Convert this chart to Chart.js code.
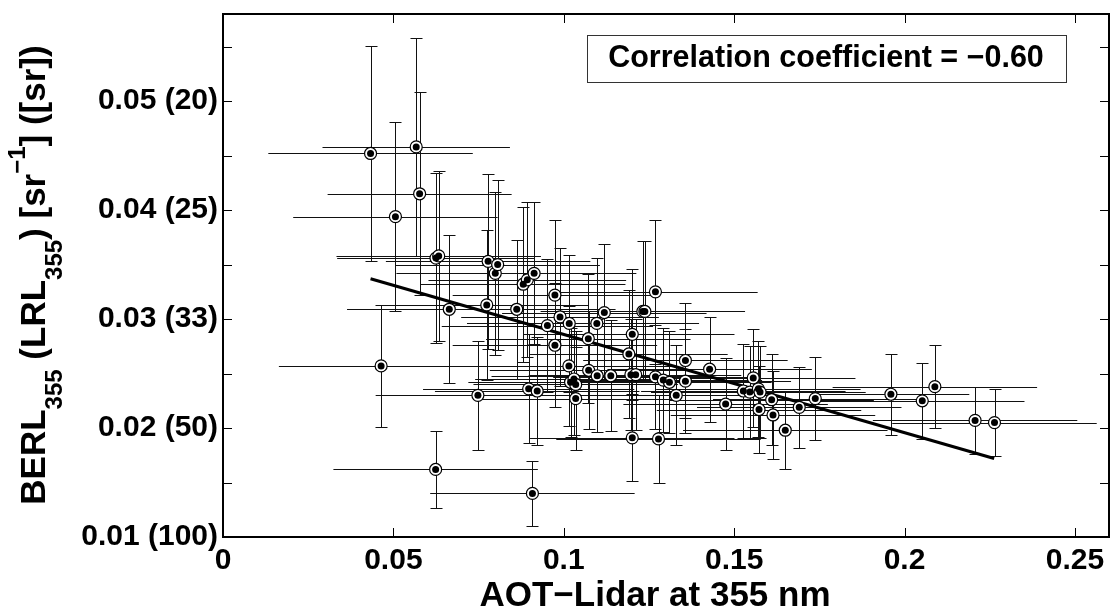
<!DOCTYPE html>
<html>
<head>
<meta charset="utf-8">
<script src="https://cdn.jsdelivr.net/npm/chart.js@4.4.0/dist/chart.umd.min.js"></script>
<style>
  html, body { margin: 0; padding: 0; background: #fff; }
</style>
</head>
<body>
<canvas id="chart" width="1110" height="613"></canvas>
<script>
// AOT (x) and backscatter-extinction ratio (y) with their error bars
const aotValues = [
  0.0433, 0.0567, 0.0577, 0.0506, 0.0625, 0.0633, 0.0664, 0.0778, 0.0799, 0.0806,
  0.0774, 0.0748, 0.0464, 0.0624, 0.0908, 0.0862, 0.0897, 0.0922, 0.0881, 0.0893,
  0.0913, 0.0974, 0.0952, 0.0974, 0.0989, 0.1016, 0.1015, 0.1020, 0.1030, 0.1035,
  0.1035, 0.1072, 0.1073, 0.1097, 0.1098, 0.1119, 0.1138, 0.1201, 0.1191, 0.1197,
  0.1211, 0.1201, 0.1232, 0.1238, 0.1269, 0.1269, 0.1292, 0.1310, 0.1278, 0.1330,
  0.1357, 0.1357, 0.1428, 0.1475, 0.1527, 0.1546, 0.1556, 0.1571, 0.1576, 0.1610,
  0.1573, 0.1614, 0.1650, 0.1691, 0.1738, 0.1960, 0.2052, 0.2089, 0.2207, 0.2264
];
const berlValues = [
  0.0452, 0.0458, 0.0415, 0.0394, 0.0356, 0.0358, 0.0309, 0.0353, 0.0342, 0.0350,
  0.0313, 0.0230, 0.0257, 0.0162, 0.0140, 0.0309, 0.0236, 0.0234, 0.0332, 0.0336,
  0.0342, 0.0322, 0.0294, 0.0276, 0.0302, 0.0296, 0.0257, 0.0242, 0.0245, 0.0240,
  0.0227, 0.0282, 0.0253, 0.0296, 0.0248, 0.0306, 0.0248, 0.0286, 0.0268, 0.0249,
  0.0249, 0.0191, 0.0307, 0.0307, 0.0325, 0.0247, 0.0244, 0.0242, 0.0190, 0.0230,
  0.0262, 0.0243, 0.0254, 0.0222, 0.0234, 0.0233, 0.0246, 0.0236, 0.0233, 0.0226,
  0.0217, 0.0212, 0.0198, 0.0219, 0.0227, 0.0231, 0.0225, 0.0238, 0.0207, 0.0205
];
const aotErrors = [
  0.030, 0.0275, 0.027, 0.030, 0.029, 0.030, 0.030, 0.030, 0.029, 0.030,
  0.030, 0.030, 0.030, 0.030, 0.030, 0.029, 0.031, 0.030, 0.030, 0.029,
  0.030, 0.030, 0.031, 0.030, 0.029, 0.030, 0.031, 0.030, 0.029, 0.030,
  0.030, 0.030, 0.029, 0.030, 0.031, 0.030, 0.030, 0.030, 0.029, 0.030,
  0.031, 0.030, 0.030, 0.029, 0.030, 0.030, 0.029, 0.030, 0.030, 0.030,
  0.030, 0.031, 0.030, 0.030, 0.030, 0.029, 0.030, 0.030, 0.031, 0.030,
  0.030, 0.030, 0.030, 0.030, 0.030, 0.023, 0.030, 0.030, 0.030, 0.030
];
const berlErrors = [
  0.0099, 0.0100, 0.0093, 0.0087, 0.0078, 0.0078, 0.0068, 0.0080, 0.0075, 0.0078,
  0.0069, 0.0050, 0.0056, 0.0035, 0.0030, 0.0064, 0.0050, 0.0050, 0.0071, 0.0071,
  0.0065, 0.0069, 0.0061, 0.0057, 0.0063, 0.0063, 0.0055, 0.0050, 0.0051, 0.0049,
  0.0047, 0.0059, 0.0054, 0.0060, 0.0052, 0.0063, 0.0051, 0.0060, 0.0059, 0.0051,
  0.0051, 0.0040, 0.0065, 0.0065, 0.0066, 0.0048, 0.0048, 0.0047, 0.0040, 0.0046,
  0.0053, 0.0048, 0.0048, 0.0042, 0.0043, 0.0042, 0.0045, 0.0044, 0.0042, 0.0042,
  0.0040, 0.0040, 0.0036, 0.0037, 0.0038, 0.0037, 0.0035, 0.0038, 0.0031, 0.0031
];

// linear fit end points
const fitX = [0.0433, 0.2263];
const fitY = [0.0337, 0.0172];

const xTickValues = [0, 0.05, 0.1, 0.15, 0.2, 0.25];
const xTickLabels = ['0', '0.05', '0.1', '0.15', '0.2', '0.25'];
const yTickValues = [0.01, 0.02, 0.03, 0.04, 0.05];
const yTickLabels = ['0.01 (100)', '0.02 (50)', '0.03 (33)', '0.04 (25)', '0.05 (20)'];
const yMarkValues = [0.01, 0.015, 0.02, 0.025, 0.03, 0.035, 0.04, 0.045, 0.05, 0.055];

const corrText = 'Correlation coefficient = \u22120.60';
const xTitle = 'AOT\u2212Lidar at 355 nm';
const yTitleParts = [
  { text: 'BERL', size: 35, shift: 0 },
  { text: '355', size: 24, shift: 17 },
  { text: ' (LRL', size: 35, shift: 0 },
  { text: '355', size: 24, shift: 17 },
  { text: ') [sr', size: 35, shift: 0 },
  { text: '\u22121', size: 24, shift: -20 },
  { text: '] ([sr])', size: 35, shift: 0 }
];

const FONT = "'Liberation Sans', Arial, Helvetica, sans-serif";

const points = aotValues.map((v, i) => ({ x: v, y: berlValues[i] }));
const fitPoints = fitX.map((v, i) => ({ x: v, y: fitY[i] }));

const errorBars = {
  id: 'errorBars',
  beforeDatasetsDraw(chart) {
    const { ctx, chartArea, scales: { x, y } } = chart;
    ctx.save();
    ctx.beginPath();
    ctx.rect(chartArea.left, chartArea.top, chartArea.width, chartArea.height);
    ctx.clip();
    ctx.strokeStyle = '#111';
    ctx.lineWidth = 1;
    aotValues.forEach((v, i) => {
      const px = Math.round(x.getPixelForValue(v)) + 0.5;
      const py = Math.round(y.getPixelForValue(berlValues[i])) + 0.5;
      const x0 = x.getPixelForValue(v - aotErrors[i]);
      const x1 = x.getPixelForValue(v + aotErrors[i]);
      const y0 = Math.round(y.getPixelForValue(berlValues[i] - berlErrors[i])) + 0.5;
      const y1 = Math.round(y.getPixelForValue(berlValues[i] + berlErrors[i])) + 0.5;
      ctx.beginPath();
      ctx.moveTo(x0, py); ctx.lineTo(x1, py);
      ctx.moveTo(px, y0); ctx.lineTo(px, y1);
      ctx.moveTo(px - 6, y0); ctx.lineTo(px + 6, y0);
      ctx.moveTo(px - 6, y1); ctx.lineTo(px + 6, y1);
      ctx.stroke();
    });
    ctx.restore();
  }
};

const frameAndText = {
  id: 'frameAndText',
  afterDraw(chart) {
    const { ctx, chartArea: a, scales: { x, y } } = chart;
    ctx.save();
    // inward tick marks
    ctx.strokeStyle = '#000';
    ctx.lineWidth = 1;
    ctx.beginPath();
    xTickValues.forEach(v => {
      const px = Math.round(x.getPixelForValue(v)) + 0.5;
      ctx.moveTo(px, a.bottom); ctx.lineTo(px, a.bottom - 9);
      ctx.moveTo(px, a.top); ctx.lineTo(px, a.top + 9);
    });
    yMarkValues.forEach(v => {
      const py = Math.round(y.getPixelForValue(v)) + 0.5;
      ctx.moveTo(a.left, py); ctx.lineTo(a.left + 9, py);
      ctx.moveTo(a.right, py); ctx.lineTo(a.right - 9, py);
    });
    ctx.stroke();
    // axes box
    ctx.lineWidth = 2;
    ctx.strokeRect(a.left, a.top, a.right - a.left, a.bottom - a.top);

    // correlation box
    ctx.lineWidth = 1;
    ctx.strokeStyle = '#333';
    ctx.fillStyle = '#fff';
    ctx.fillRect(587.5, 35.5, 479, 47);
    ctx.strokeRect(587.5, 35.5, 479, 47);
    ctx.fillStyle = '#000';
    ctx.font = 'bold 30.5px ' + FONT;
    ctx.textAlign = 'center';
    ctx.textBaseline = 'middle';
    ctx.fillText(corrText, 826, 59);

    // x title
    ctx.font = 'bold 35px ' + FONT;
    ctx.textBaseline = 'alphabetic';
    ctx.fillText(xTitle, 655, 606);

    // y title with sub/superscripts
    let total = 0;
    yTitleParts.forEach(p => {
      ctx.font = 'bold ' + p.size + 'px ' + FONT;
      total += ctx.measureText(p.text).width;
    });
    ctx.translate(45, 275 + total / 2);
    ctx.rotate(-Math.PI / 2);
    ctx.textAlign = 'left';
    let pos = 0;
    yTitleParts.forEach(p => {
      ctx.font = 'bold ' + p.size + 'px ' + FONT;
      ctx.fillText(p.text, pos, p.shift);
      pos += ctx.measureText(p.text).width;
    });
    ctx.restore();
  }
};

new Chart(document.getElementById('chart'), {
  type: 'scatter',
  data: {
    datasets: [{
      data: points,
      pointRadius: 3.5,
      pointBackgroundColor: '#000',
      pointBorderWidth: 0
    }, {
      data: points,
      pointRadius: 6,
      pointBackgroundColor: '#fff',
      pointBorderColor: '#000',
      pointBorderWidth: 1.2
    }, {
      type: 'line',
      data: fitPoints,
      borderColor: '#000',
      borderWidth: 3,
      pointRadius: 0,
      fill: false
    }]
  },
  options: {
    responsive: false,
    animation: false,
    layout: { autoPadding: false, padding: { top: 14, right: 1, left: 0, bottom: 0 } },
    plugins: {
      legend: { display: false },
      tooltip: { enabled: false }
    },
    scales: {
      x: {
        type: 'linear',
        min: 0,
        max: 0.26,
        grid: { display: false, drawTicks: false },
        border: { display: false },
        afterBuildTicks: scale => { scale.ticks = xTickValues.map(v => ({ value: v })); },
        afterFit: scale => {
          scale.height = 76;
          scale.paddingLeft = 0;
          scale.paddingRight = 0;
        },
        ticks: {
          padding: 6,
          maxRotation: 0,
          color: '#000',
          font: { family: FONT, size: 30, weight: 'bold' },
          callback: (v, i) => xTickLabels[i]
        }
      },
      y: {
        type: 'linear',
        min: 0.01,
        max: 0.058,
        grid: { display: false, drawTicks: false },
        border: { display: false },
        afterBuildTicks: scale => { scale.ticks = yTickValues.map(v => ({ value: v })); },
        afterFit: scale => {
          scale.width = 223;
          scale.paddingTop = 0;
          scale.paddingBottom = 0;
        },
        ticks: {
          padding: 5,
          color: '#000',
          font: { family: FONT, size: 30, weight: 'bold' },
          callback: (v, i) => yTickLabels[i]
        }
      }
    }
  },
  plugins: [errorBars, frameAndText]
});
</script>
</body>
</html>
